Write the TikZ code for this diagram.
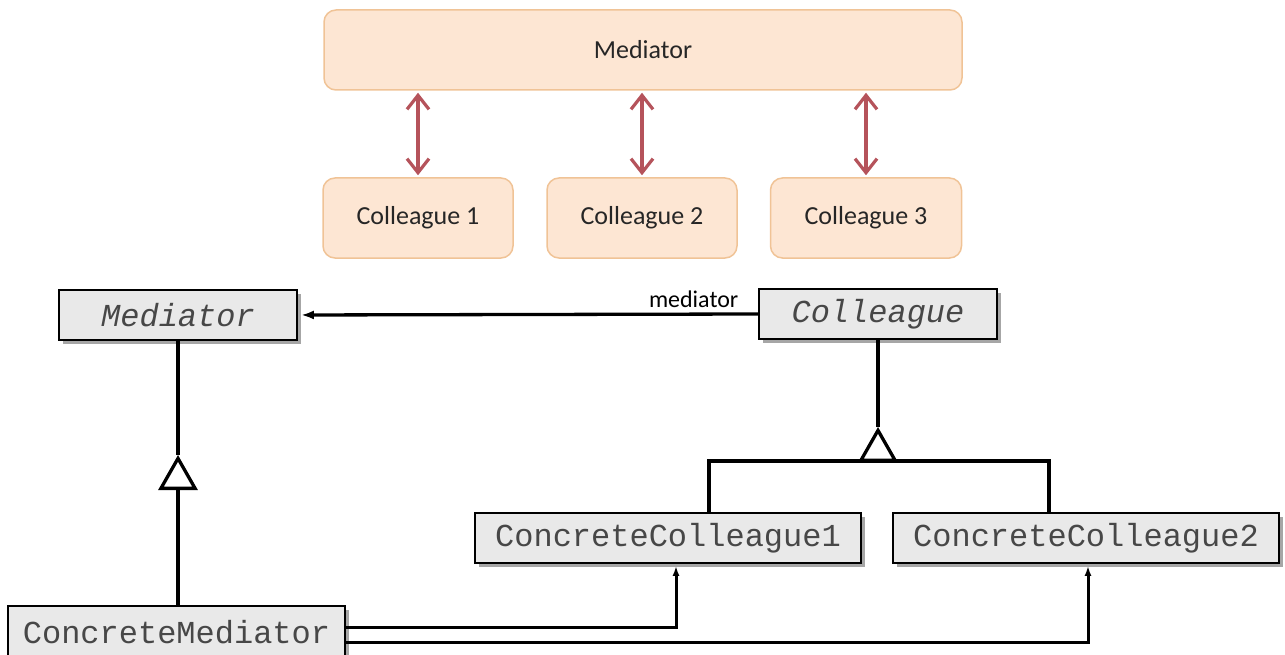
\documentclass[tikz,border=0pt]{standalone}
\usepackage{fontspec}
\setmainfont{Carlito}
\setmonofont{Liberation Mono}
\usepackage{tikz}
\usetikzlibrary{arrows.meta,positioning,shadows}
\definecolor{peach}{RGB}{253,230,211}
\definecolor{peachline}{RGB}{240,195,150}
\definecolor{linkred}{RGB}{181,83,91}
\definecolor{umlgray}{RGB}{233,233,233}
\tikzstyle{idea} = [draw=peachline, fill=peach, line width=1.5pt, rounded corners=12pt,
  font=\fontsize{26}{30}\selectfont, text=black!85]
\tikzstyle{duplex} = [{Straight Barb[length=14pt,width=22pt]}-{Straight Barb[length=14pt,width=22pt]},
  linkred, line width=3.2pt]
\tikzstyle{umlbox} = [draw, fill=umlgray, line width=1.8pt, inner sep=0pt,
  font=\ttfamily\fontsize{32}{36}\selectfont, text=black!72,
  drop shadow={shadow xshift=4pt, shadow yshift=-4pt, opacity=0.35, fill=black}]
\tikzstyle{uml} = [line width=3.3pt]
\tikzstyle{nav} = [-{Latex[length=10pt,width=7pt]}, shorten >=2pt, line width=3pt]
\tikzstyle{inherit} = [uml, -{Triangle[length=35pt,width=39pt,fill=white]}]

\begin{document}
\begin{tikzpicture}[x=1pt,y=-1pt]
    \useasboundingbox (0,0) rectangle (1285,655);

    % mediator idea, top half
    \node[idea, minimum width=638, minimum height=80] (medTop) at (643,50) {Mediator};
    \node[idea, minimum width=190, minimum height=80] (col1) at (418,218) {Colleague 1};
    \node[idea, minimum width=190, minimum height=80] (col2) at (642,218) {Colleague 2};
    \node[idea, minimum width=191, minimum height=80] (col3) at (866,218) {Colleague 3};

    \foreach \c in {col1,col2,col3}
        \draw[duplex, shorten <=2pt, shorten >=2pt] (\c.north) -- (\c.north |- medTop.south);

    % class diagram, bottom half
    \node[umlbox, minimum width=238, minimum height=50] (med) at (178,315) {\textit{Mediator}};
    \node[umlbox, minimum width=238, minimum height=50] (coll) at (878,314) {\textit{Colleague}};
    \node[umlbox, minimum width=337, minimum height=52] (cm) at (176.5,632) {ConcreteMediator};
    \node[umlbox, minimum width=386, minimum height=50] (cc1) at (668,538) {ConcreteColleague1};
    \node[umlbox, minimum width=386, minimum height=50] (cc2) at (1086,538) {ConcreteColleague2};

    \draw[-{Latex[length=13pt,width=9pt]}, shorten >=3pt, uml] (coll.west) -- (med.east)
        node[pos=0.14, above=1pt, font=\fontsize{24}{28}\selectfont] (medLabel) {mediator};

    % generalisation triangles
    \coordinate (tri1) at (178,455);
    \draw[uml] (med.south) -- (tri1);
    \draw[inherit] (tri1 |- cm.north) -- (tri1);

    \coordinate (tri2) at (878,427);
    \coordinate (join) at (878,461);
    \draw[uml] (coll.south) -- (tri2);
    \draw[uml] ([xshift=41pt]cc1.north) |- (join) -| ([xshift=-37pt]cc2.north);
    \draw[inherit] (join) -- (tri2);

    % concrete mediator knows its colleagues
    \draw[nav] ([yshift=5pt]cm.east) -| ([xshift=8pt]cc1.south);
    \draw[nav] ([yshift=-10pt]cm.east) -| ([xshift=2pt]cc2.south);
\end{tikzpicture}
\end{document}
